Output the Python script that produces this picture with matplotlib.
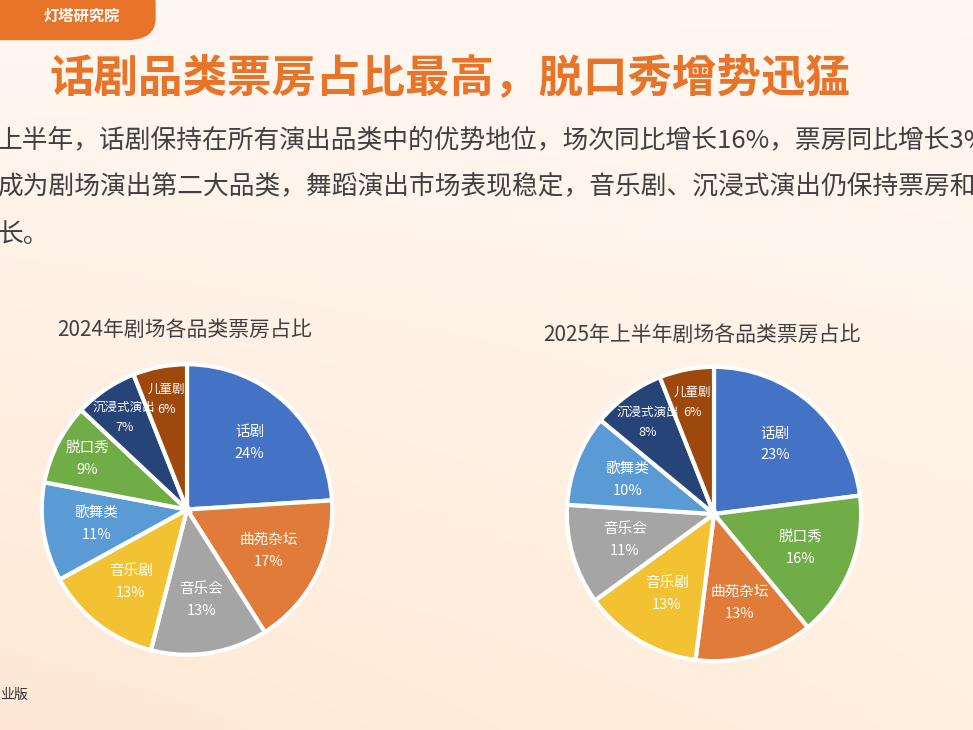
import matplotlib
matplotlib.use("Agg")
import matplotlib.pyplot as plt
import numpy as np
from matplotlib.patches import FancyBboxPatch

plt.rcParams["font.family"] = "Noto Sans CJK JP"

title = "话剧品类票房占比最高，脱口秀增势迅猛"
body = ["上半年，话剧保持在所有演出品类中的优势地位，场次同比增长16%，票房同比增长3%",
        "成为剧场演出第二大品类，舞蹈演出市场表现稳定，音乐剧、沉浸式演出仍保持票房和",
        "长。"]

labels_2024 = ["话剧", "曲苑杂坛", "音乐会", "音乐剧", "歌舞类", "脱口秀", "沉浸式演出", "儿童剧"]
values_2024 = [24, 17, 13, 13, 11, 9, 7, 6]
labels_2025 = ["话剧", "脱口秀", "曲苑杂坛", "音乐剧", "音乐会", "歌舞类", "沉浸式演出", "儿童剧"]
values_2025 = [23, 16, 13, 13, 11, 10, 8, 6]

colors = {"话剧": "#4472C4", "曲苑杂坛": "#E07B39", "音乐会": "#A5A5A5", "音乐剧": "#F2C232",
          "歌舞类": "#5B9BD5", "脱口秀": "#70AD47", "沉浸式演出": "#264478", "儿童剧": "#9E480E"}

fig = plt.figure(figsize=(9.73, 7.30), dpi=100)

bg = fig.add_axes([0, 0, 1, 1])
yy, xx = np.mgrid[0:1:200j, 0:1:200j]
img = np.zeros((200, 200, 3))
img[..., 0] = 1.0
img[..., 1] = 0.97 - 0.06 * yy * (1 - 0.5 * xx)
img[..., 2] = 0.95 - 0.12 * yy * (1 - 0.4 * xx)
bg.imshow(img, extent=[0, 1, 0, 1], origin="upper", aspect="auto")
bg.set_xlim(0, 1); bg.set_ylim(0, 1); bg.axis("off")

bg.add_patch(FancyBboxPatch((-0.05, 0.945), 0.21, 0.08, boxstyle="round,pad=0,rounding_size=0.03",
                            facecolor="#E8742A", edgecolor="none", transform=bg.transAxes))
bg.text(0.045, 0.978, "灯塔研究院", color="white", fontsize=11, va="center", ha="left", fontweight="bold")

bg.text(0.462, 0.893, title, color="#E8742A", fontsize=32, fontweight="bold", ha="center", va="center")
for i, line in enumerate(body):
    bg.text(-0.003, 0.808 - i * 0.065, line, color="#404040", fontsize=18.5, ha="left", va="center")
bg.text(0.0, 0.048, "业版", color="#333333", fontsize=10, ha="left", va="center")

def draw(ax, labels, values):
    cols = [colors[l] for l in labels]
    wedges, _ = ax.pie(values, colors=cols, startangle=90, counterclock=False,
                       wedgeprops=dict(edgecolor="white", linewidth=3))
    for w, l, v in zip(wedges, labels, values):
        ang = np.deg2rad((w.theta1 + w.theta2) / 2)
        rr = 0.63 if v >= 10 else 0.77
        fs = 10.5 if v >= 9 else 9
        ax.text(rr * np.cos(ang), rr * np.sin(ang), f"{l}\n{v}%", color="white",
                ha="center", va="center", fontsize=fs, linespacing=1.7)
    ax.set_xlim(-1.05, 1.05); ax.set_ylim(-1.05, 1.05)
    ax.set_aspect("equal")

ax1 = fig.add_axes([34.5 / 973, 68 / 730, 305 / 973, 305 / 730])
draw(ax1, labels_2024, values_2024)
ax2 = fig.add_axes([559.5 / 973, 61.5 / 730, 309 / 973, 309 / 730])
draw(ax2, labels_2025, values_2025)
fig.text(185 / 973, 1 - 330 / 730, "2024年剧场各品类票房占比", fontsize=15, color="#404040", ha="center", va="center")
fig.text(702 / 973, 1 - 335 / 730, "2025年上半年剧场各品类票房占比", fontsize=15, color="#404040", ha="center", va="center")

fig.savefig("out.png", dpi=100)
